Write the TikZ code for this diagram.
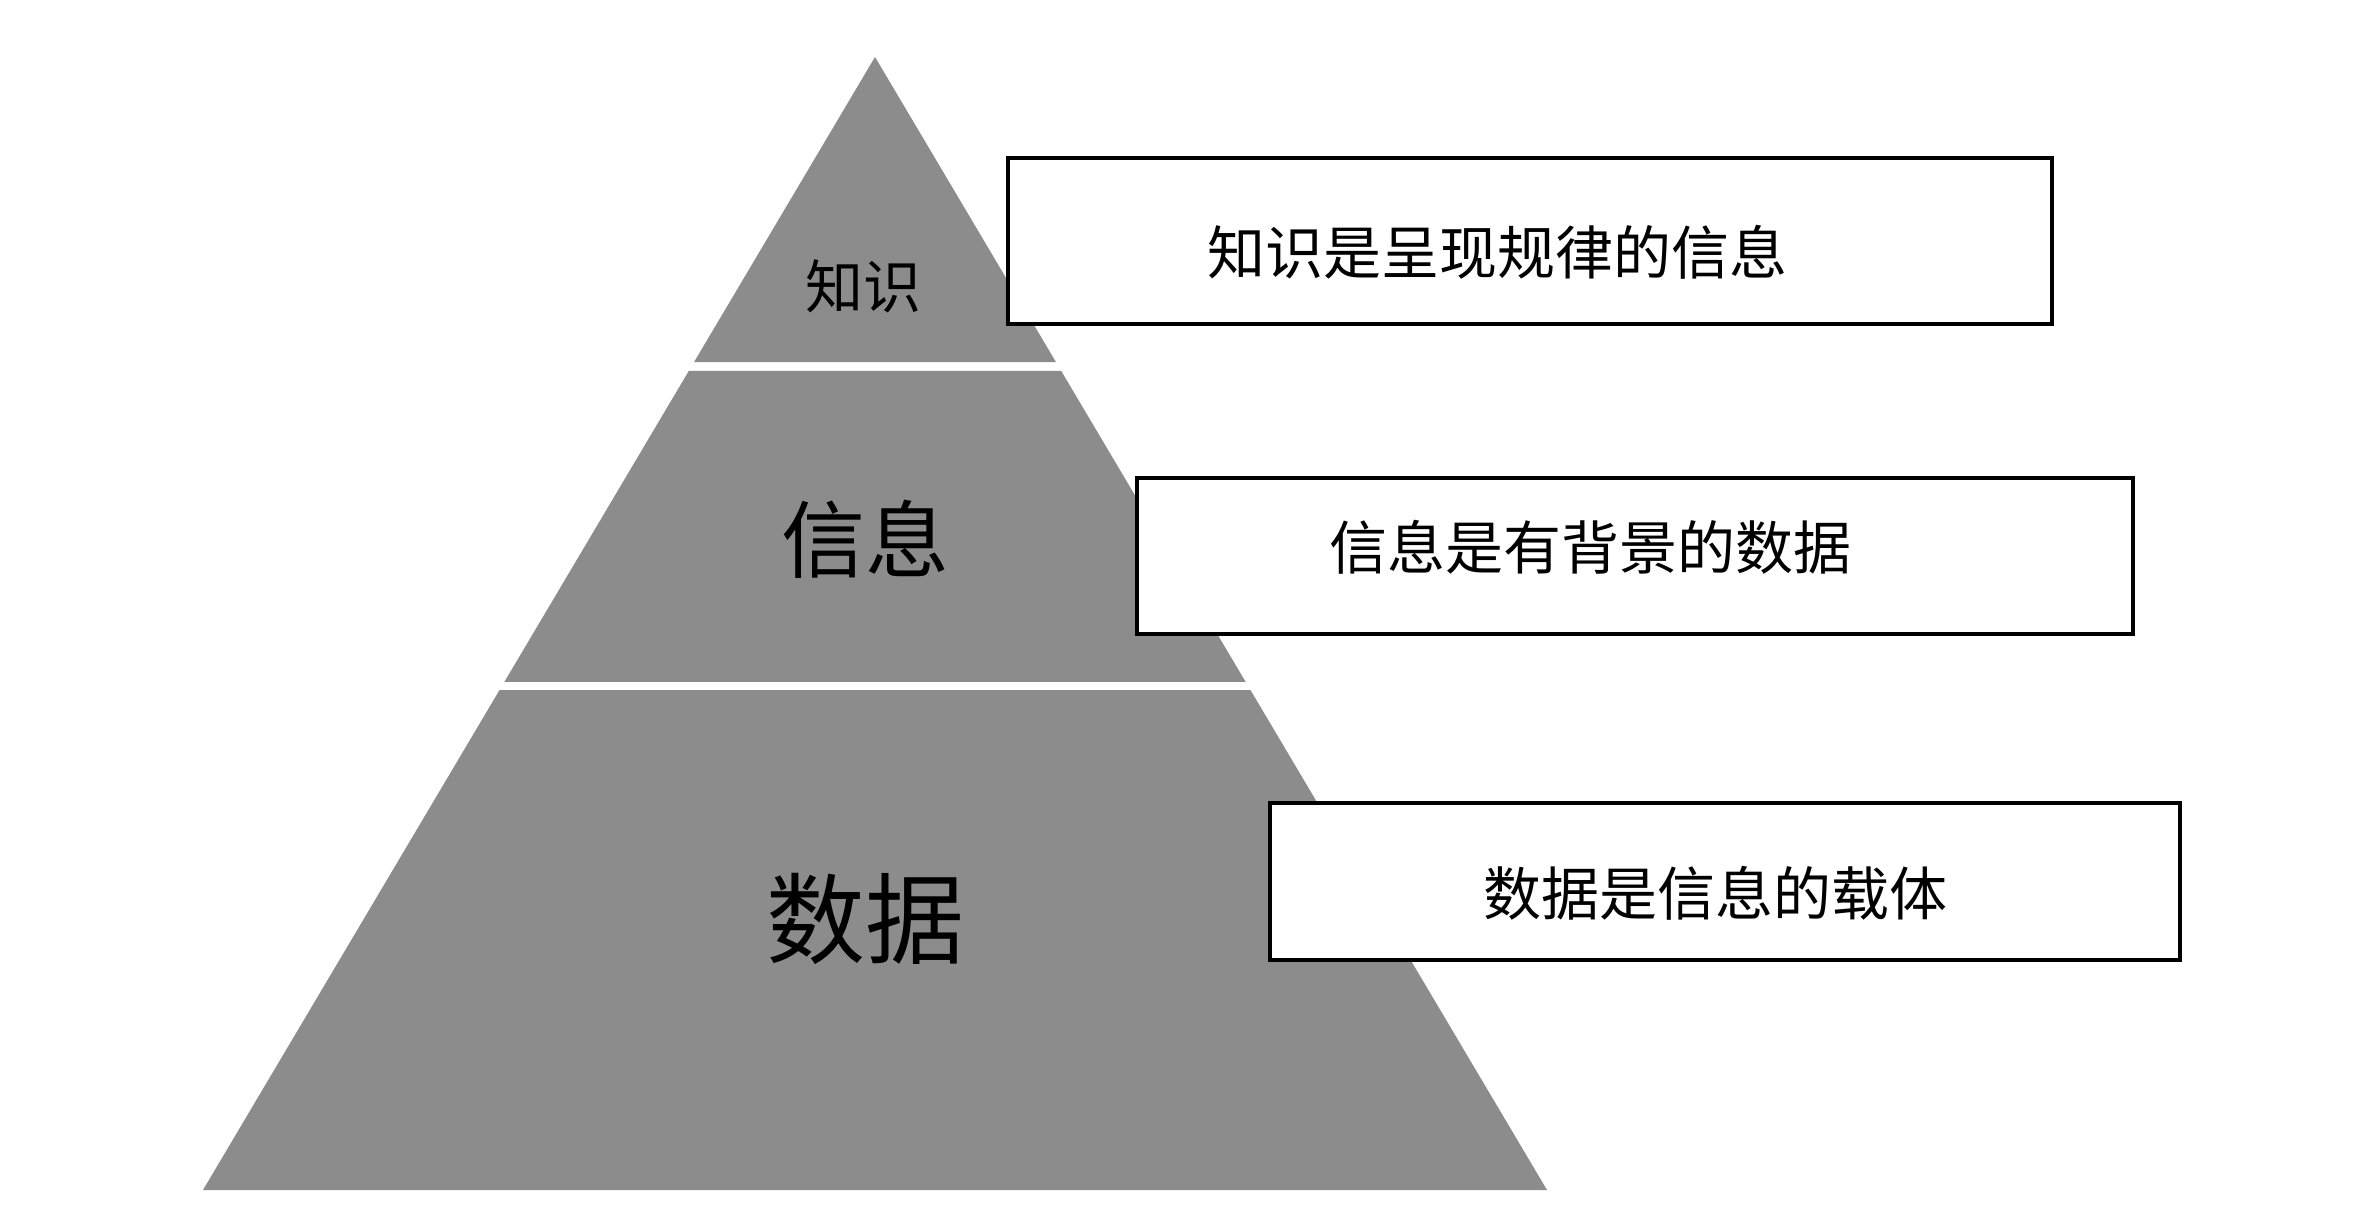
\documentclass[tikz,border=0pt]{standalone}
\usepackage{fontspec}
\setmainfont{Noto Sans CJK SC}
\usetikzlibrary{calc}
\definecolor{pyr}{HTML}{8C8C8C}
\begin{document}
\begin{tikzpicture}[x=0.5pt,y=-0.5pt,
  band/.style={fill=pyr, draw=none},
  notebox/.style={draw=black, line width=2pt, fill=white, inner sep=0pt},
  notetext/.style={inner sep=0pt, font=\fontsize{29}{33}\selectfont},
  pyrtext/.style={inner sep=0pt}
]
\useasboundingbox[fill=white] (0,0) rectangle (2362,1228);
\coordinate (A) at (875,57);
\coordinate (L) at (203,1190);
\coordinate (R) at (1547,1190);
% bands
\fill[band] (A) -- ($(A)!0.2692!(R)$) -- ($(A)!0.2692!(L)$) -- cycle;
\fill[band] ($(A)!0.2771!(L)$) -- ($(A)!0.2771!(R)$) -- ($(A)!0.5516!(R)$) -- ($(A)!0.5516!(L)$) -- cycle;
\fill[band] ($(A)!0.5587!(L)$) -- ($(A)!0.5587!(R)$) -- (R) -- (L) -- cycle;
% pyramid labels
\node[pyrtext, font=\fontsize{29}{33}\selectfont] (k) at (863,286) {知识};
\node[pyrtext, font=\fontsize{42}{47}\selectfont] (i) at (865,539) {信息};
\node[pyrtext, font=\fontsize{49.5}{55}\selectfont] (d) at (865,919) {数据};
% boxes
\node[notebox, minimum width=522pt, minimum height=83pt] (b1) at (1530,241) {};
\node[notetext] (t1) at (1497,252) {知识是呈现规律的信息};
\node[notebox, minimum width=498pt, minimum height=78pt] (b2) at (1635,556) {};
\node[notetext] (t2) at (1590,547) {信息是有背景的数据};
\node[notebox, minimum width=455pt, minimum height=78.5pt] (b3) at (1725,881.5) {};
\node[notetext] (t3) at (1715,893) {数据是信息的载体};
\end{tikzpicture}
\end{document}
